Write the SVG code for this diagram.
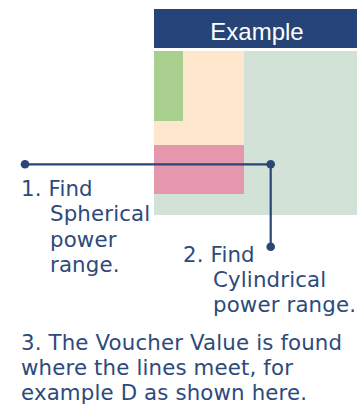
<svg xmlns="http://www.w3.org/2000/svg" width="358" height="406" viewBox="0 0 358 406">
<style>
.t{font-family:"DejaVu Sans",Verdana,sans-serif;font-size:21.3px;letter-spacing:0.15px;fill:#2d4a7b}
.ln{fill:none;stroke:#2a4676;stroke-width:2.2}
.dot{fill:#2a4676}
</style>
<rect width="358" height="406" fill="#ffffff"/>
<g id="chart">
<rect x="154" y="51" width="203" height="164" fill="#d3e2d6"/>
<rect x="154" y="51" width="90" height="94" fill="#fde7cd"/>
<rect x="154" y="51" width="29" height="70" fill="#a9cf8e"/>
<rect x="154" y="145" width="90" height="49" fill="#e597ae"/>
</g>
<g id="header">
<rect x="154" y="9" width="203" height="39" fill="#264478"/>
<text x="257" y="39.5" text-anchor="middle" font-family="Liberation Sans,Arial,sans-serif" font-size="24" fill="#ffffff">Example</text>
</g>
<g id="connectors">
<polyline class="ln" points="25,164.3 270.7,164.3 270.7,246.7"/>
<circle class="dot" cx="25" cy="164.3" r="4.3"/>
<circle class="dot" cx="270.7" cy="164.3" r="4.3"/>
<circle class="dot" cx="270.7" cy="246.7" r="4.3"/>
</g>
<g id="step1">
<text class="t" x="21" y="195.5">1. Find</text>
<text class="t" x="50" y="221">Spherical</text>
<text class="t" x="50" y="246.5">power</text>
<text class="t" x="50" y="272">range.</text>
</g>
<g id="step2">
<text class="t" x="183" y="261.5">2. Find</text>
<text class="t" x="213" y="287">Cylindrical</text>
<text class="t" x="213" y="312">power range.</text>
</g>
<g id="step3">
<text class="t" x="21" y="350">3. The Voucher Value is found</text>
<text class="t" x="21" y="375">where the lines meet, for</text>
<text class="t" x="21" y="400">example D as shown here.</text>
</g>
</svg>
